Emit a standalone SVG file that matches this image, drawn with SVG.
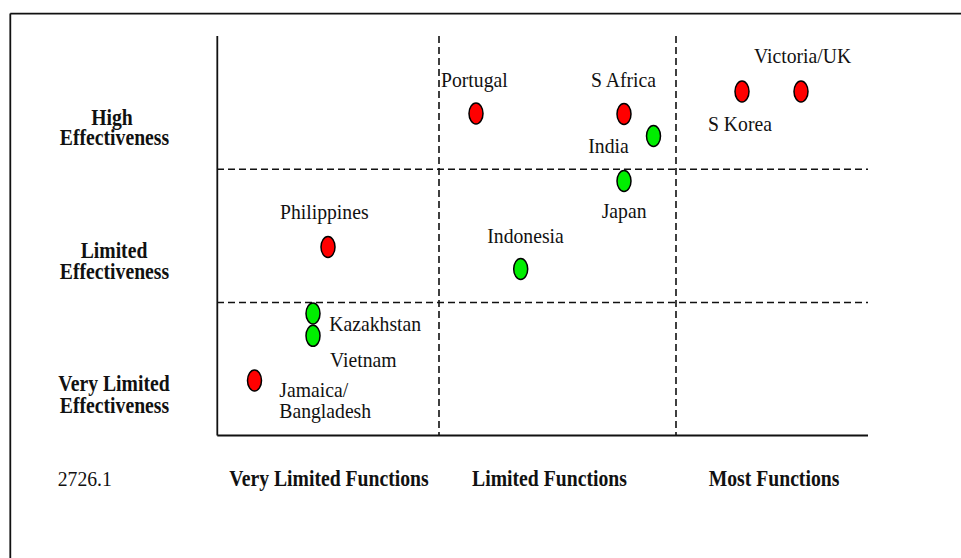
<svg xmlns="http://www.w3.org/2000/svg" width="961" height="558" viewBox="0 0 961 558">
<style>
.t{font-family:"Liberation Serif","Times New Roman",serif;font-size:19.7px;fill:#111}
.b{font-family:"Liberation Serif","Times New Roman",serif;font-size:19.7px;font-weight:bold;fill:#111;text-anchor:middle}
.ax{stroke:#111;stroke-width:1.8;fill:none}
.da{stroke:#111;stroke-width:1.6;stroke-dasharray:7 4;fill:none}
.red{fill:#ff0000;stroke:#000;stroke-width:1.5}
.grn{fill:#00ee00;stroke:#000;stroke-width:1.5}
</style>
<rect width="961" height="558" fill="#fff"/>
<g id="frame">
<line class="ax" x1="10.3" y1="13.6" x2="961" y2="13.6" stroke-width="2.2"/>
<line class="ax" x1="10.3" y1="13.6" x2="10.3" y2="558" stroke-width="2.2"/>
</g>
<g id="grid">
<line class="ax" x1="217.3" y1="36" x2="217.3" y2="435.5"/>
<line class="ax" x1="217.3" y1="435.5" x2="868" y2="435.5"/>
<line class="da" x1="439" y1="36" x2="439" y2="435"/>
<line class="da" x1="676" y1="36" x2="676" y2="435"/>
<line class="da" x1="217" y1="169.3" x2="868" y2="169.3"/>
<line class="da" x1="217" y1="302.5" x2="868" y2="302.5"/>
</g>
<g id="axis-labels">
<text class="b" transform="translate(114,124.5) scale(1,1.12)"><tspan x="-2" y="0">High</tspan><tspan x="0.5" y="18.3">Effectiveness</tspan></text>
<text class="b" transform="translate(114,258) scale(1,1.12)"><tspan x="0" y="0">Limited</tspan><tspan x="0.5" y="18.75">Effectiveness</tspan></text>
<text class="b" transform="translate(114,390.7) scale(1,1.12)"><tspan x="0" y="0">Very Limited</tspan><tspan x="0.5" y="19.6">Effectiveness</tspan></text>
<text class="t" transform="translate(57.7,485.7) scale(1,1.1)">2726.1</text>
<text class="b" transform="translate(329,486) scale(1,1.12)">Very Limited Functions</text>
<text class="b" transform="translate(549.5,486) scale(1,1.12)">Limited Functions</text>
<text class="b" transform="translate(774,486) scale(1,1.12)">Most Functions</text>
</g>
<g id="portugal"><ellipse class="red" cx="476" cy="113.5" rx="7" ry="10.5"/><text class="t" transform="translate(441,87) scale(1,1.1)">Portugal</text></g>
<g id="s-africa"><ellipse class="red" cx="624" cy="114" rx="7" ry="10.5"/><text class="t" transform="translate(591,87) scale(1,1.1)">S Africa</text></g>
<g id="india"><ellipse class="grn" cx="653.5" cy="136" rx="7" ry="10.5"/><text class="t" transform="translate(588.3,152.7) scale(1,1.1)">India</text></g>
<g id="japan"><ellipse class="grn" cx="624" cy="181" rx="7" ry="10.5"/><text class="t" transform="translate(601.7,218) scale(1,1.1)">Japan</text></g>
<g id="s-korea"><ellipse class="red" cx="742" cy="91.5" rx="7" ry="10.5"/><text class="t" transform="translate(708,131) scale(1,1.1)">S Korea</text></g>
<g id="victoria-uk"><ellipse class="red" cx="801" cy="91.5" rx="7" ry="10.5"/><text class="t" transform="translate(754,63.3) scale(1,1.1)">Victoria/UK</text></g>
<g id="indonesia"><ellipse class="grn" cx="520.7" cy="269" rx="7" ry="10.5"/><text class="t" transform="translate(487.3,242.7) scale(1,1.1)">Indonesia</text></g>
<g id="philippines"><ellipse class="red" cx="328" cy="247" rx="7" ry="10.5"/><text class="t" transform="translate(280,219.3) scale(1,1.1)">Philippines</text></g>
<g id="kazakhstan"><ellipse class="grn" cx="313" cy="313.5" rx="7" ry="10.5"/><text class="t" transform="translate(329.3,330.7) scale(1,1.1)">Kazakhstan</text></g>
<g id="vietnam"><ellipse class="grn" cx="313" cy="335.8" rx="7" ry="10.5"/><text class="t" transform="translate(330,367.3) scale(1,1.1)">Vietnam</text></g>
<g id="jamaica-bangladesh"><ellipse class="red" cx="254.5" cy="380.5" rx="7" ry="10.5"/><text class="t" transform="translate(279.3,397.3) scale(1,1.1)"><tspan x="0" y="0">Jamaica/</tspan><tspan x="0" y="19.1">Bangladesh</tspan></text></g>
</svg>
